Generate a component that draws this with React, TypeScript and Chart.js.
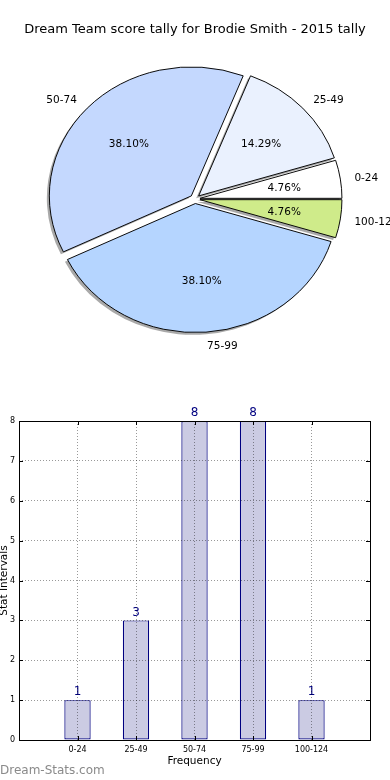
import React, { useEffect, useRef } from 'react';
import { Chart, registerables } from 'chart.js';

Chart.register(...registerables);

// ---------- data ----------
const TITLE = 'Dream Team score tally for Brodie Smith - 2015 tally';
const categories = ['0-24', '25-49', '50-74', '75-99', '100-124'];
const counts = [1, 3, 8, 8, 1];
const pieColors = ['#ffffff', '#eaf1fe', '#c4d8fe', '#b5d5ff', '#cfeb8a'];
const yTicks = [0, 1, 2, 3, 4, 5, 6, 7, 8];
const X_TITLE = 'Frequency';
const Y_TITLE = 'Stat Intervals';
const WATERMARK = 'Dream-Stats.com';

// ---------- style ----------
const FONT = '"DejaVu Sans", sans-serif';
const PIE = { rx: 142, ry: 129, explode: 5, shadowDx: -2.5, shadowDy: 2.3, labelDist: 1.1, pctDist: 0.6 };

const total = counts.reduce((a, b) => a + b, 0);
const pctLabels = counts.map((c) => ((c / total) * 100).toFixed(2) + '%');
// matplotlib draws counter-clockwise from 3 o'clock; Chart.js draws clockwise, so reverse
const pieLabels = [...categories].reverse();
const pieCounts = [...counts].reverse();
const pieBg = [...pieColors].reverse();
const piePct = [...pctLabels].reverse();

const piePlugin = {
  id: 'pieDeco',
  beforeDatasetsDraw(chart: any) {
    const ctx = chart.ctx as CanvasRenderingContext2D;
    const arcs = chart.getDatasetMeta(0).data as any[];
    if (!arcs.length) return false;
    const k = PIE.ry / PIE.rx;
    const cx = arcs[0].x;
    const cy = arcs[0].y;
    // shadow
    ctx.save();
    ctx.translate(PIE.shadowDx, PIE.shadowDy);
    ctx.translate(cx, cy);
    ctx.scale(1, k);
    ctx.translate(-cx, -cy);
    ctx.beginPath();
    arcs.forEach((arc) => {
      const mid = (arc.startAngle + arc.endAngle) / 2;
      const ox = arc.x + Math.cos(mid) * PIE.explode;
      const oy = arc.y + Math.sin(mid) * PIE.explode;
      ctx.moveTo(ox, oy);
      ctx.arc(ox, oy, arc.outerRadius, arc.startAngle, arc.endAngle);
      ctx.closePath();
    });
    ctx.fillStyle = 'rgba(40,40,40,0.4)';
    ctx.fill();
    ctx.restore();
    // wedges
    ctx.save();
    ctx.translate(cx, cy);
    ctx.scale(1, k);
    ctx.translate(-cx, -cy);
    arcs.forEach((arc) => {
      const mid = (arc.startAngle + arc.endAngle) / 2;
      ctx.save();
      ctx.translate(Math.cos(mid) * PIE.explode, Math.sin(mid) * PIE.explode);
      arc.draw(ctx);
      ctx.restore();
    });
    ctx.restore();
    return false;
  },
  afterDraw(chart: any) {
    const ctx = chart.ctx as CanvasRenderingContext2D;
    const arcs = chart.getDatasetMeta(0).data as any[];
    const k = PIE.ry / PIE.rx;
    ctx.save();
    ctx.fillStyle = '#000';
    ctx.font = `10.5px ${FONT}`;
    ctx.textBaseline = 'middle';
    arcs.forEach((arc, i) => {
      const mid = (arc.startAngle + arc.endAngle) / 2;
      const dx = Math.cos(mid);
      const dy = Math.sin(mid);
      const R = arc.outerRadius;
      const lr = PIE.explode + PIE.labelDist * R;
      ctx.textAlign = dx > 0 ? 'left' : 'right';
      ctx.fillText(pieLabels[i], arc.x + dx * lr, arc.y + dy * lr * k + 1);
      const pr = PIE.explode + PIE.pctDist * R;
      ctx.textAlign = 'center';
      ctx.fillText(piePct[i], arc.x + dx * pr, arc.y + dy * pr * k + 1);
    });
    ctx.font = `13px ${FONT}`;
    ctx.textAlign = 'center';
    ctx.fillText(TITLE, 195, 30);
    ctx.restore();
  },
};

const barPlugin = {
  id: 'barDeco',
  afterDatasetsDraw(chart: any) {
    const ctx = chart.ctx as CanvasRenderingContext2D;
    const bars = chart.getDatasetMeta(0).data as any[];
    const values = chart.data.datasets[0].data as (number | null)[];
    ctx.save();
    ctx.fillStyle = '#000080';
    ctx.font = `12px ${FONT}`;
    ctx.textAlign = 'center';
    ctx.textBaseline = 'middle';
    bars.forEach((bar, i) => {
      const v = values[i];
      if (v == null) return;
      ctx.fillText(String(v), bar.x, bar.y - 8);
    });
    ctx.restore();
  },
  afterDraw(chart: any) {
    const ctx = chart.ctx as CanvasRenderingContext2D;
    const { left, top, right, bottom } = chart.chartArea;
    const xs = chart.scales.x;
    const ys = chart.scales.y;
    ctx.save();
    ctx.strokeStyle = '#000';
    ctx.lineWidth = 1;
    ctx.beginPath();
    yTicks.forEach((v) => {
      const y = Math.round(ys.getPixelForValue(v)) + 0.5;
      ctx.moveTo(left, y);
      ctx.lineTo(left + 4, y);
      ctx.moveTo(right - 4, y);
      ctx.lineTo(right, y);
    });
    categories.forEach((_, i) => {
      const x = Math.round(xs.getPixelForValue(i + 1)) + 0.5;
      ctx.moveTo(x, bottom);
      ctx.lineTo(x, bottom - 4);
      ctx.moveTo(x, top);
      ctx.lineTo(x, top + 4);
    });
    ctx.stroke();
    ctx.strokeRect(Math.round(left) + 0.5, Math.round(top) + 0.5, Math.round(right - left), Math.round(bottom - top));
    ctx.restore();
  },
};

function PieChart() {
  const ref = useRef<HTMLCanvasElement>(null);
  useEffect(() => {
    if (!ref.current) return;
    const chart = new Chart(ref.current, {
      type: 'pie',
      data: {
        labels: pieLabels,
        datasets: [
          {
            data: pieCounts,
            backgroundColor: pieBg,
            borderColor: '#000',
            borderWidth: 1,
            radius: PIE.rx,
            clip: false,
          } as any,
        ],
      },
      options: {
        responsive: false,
        animation: false,
        events: [],
        rotation: 90,
        layout: { padding: { top: 0, bottom: 2, left: 0, right: 0 } },
        plugins: { legend: { display: false }, tooltip: { enabled: false }, title: { display: false } },
      } as any,
      plugins: [piePlugin],
    });
    return () => chart.destroy();
  }, []);
  return <canvas ref={ref} width={390} height={400} style={{ position: 'absolute', left: 0, top: 0, width: 390, height: 400 }} />;
}

function BarChart() {
  const ref = useRef<HTMLCanvasElement>(null);
  useEffect(() => {
    if (!ref.current) return;
    const chart = new Chart(ref.current, {
      type: 'bar',
      data: {
        labels: ['', ...categories, ''],
        datasets: [
          {
            data: [null, ...counts, null],
            backgroundColor: '#cbcbe3',
            borderColor: '#000080',
            borderWidth: 1.2,
            borderSkipped: false,
            barPercentage: 0.45,
            categoryPercentage: 1,
          } as any,
        ],
      },
      options: {
        responsive: false,
        animation: false,
        events: [],
        layout: { padding: { top: 21, right: 20, left: 0, bottom: 0 } },
        plugins: { legend: { display: false }, tooltip: { enabled: false } },
        scales: {
          x: {
            type: 'category',
            offset: false,
            grid: { offset: false, color: 'rgba(0,0,0,0.4)', lineWidth: 1, drawTicks: false, z: 1 },
            border: { display: false, dash: [1, 2] },
            ticks: { color: '#000', font: { family: FONT, size: 8 }, padding: 5, maxRotation: 0, autoSkip: false },
            title: { display: true, text: X_TITLE, color: '#000', font: { family: FONT, size: 10.5 }, padding: { top: 0, bottom: 12 } },
            afterFit: (s: any) => {
              s.height = 40;
            },
          },
          y: {
            min: 0,
            max: 8,
            grid: { color: 'rgba(0,0,0,0.4)', lineWidth: 1, drawTicks: false, z: 1 },
            border: { display: false, dash: [1, 2] },
            ticks: { stepSize: 1, color: '#000', font: { family: FONT, size: 8 }, padding: 4 },
            title: { display: true, text: Y_TITLE, color: '#000', font: { family: FONT, size: 10.5, lineHeight: 0.8 }, padding: { top: 0, bottom: 0 } },
            afterFit: (s: any) => {
              s.width = 19;
            },
          },
        },
      } as any,
      plugins: [barPlugin],
    });
    return () => chart.destroy();
  }, []);
  return <canvas ref={ref} width={390} height={380} style={{ position: 'absolute', left: 0, top: 400, width: 390, height: 380 }} />;
}

export default function App() {
  return (
    <div style={{ position: 'absolute', left: 0, top: 0, width: 390, height: 780, background: '#fff', overflow: 'hidden' }}>
      <PieChart />
      <BarChart />
      <div
        style={{
          position: 'absolute',
          left: 0,
          top: 762,
          fontFamily: FONT,
          fontSize: 12,
          color: '#8a8a8a',
          lineHeight: '16px',
          whiteSpace: 'nowrap',
        }}
      >
        {WATERMARK}
      </div>
    </div>
  );
}
